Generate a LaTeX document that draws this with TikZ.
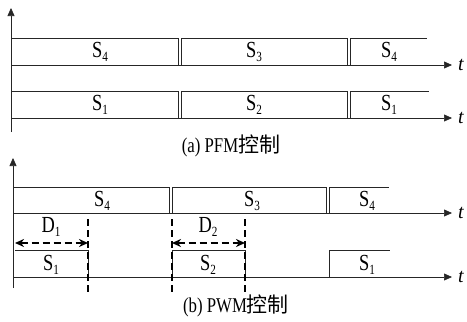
\documentclass[tikz,border=0pt]{standalone}
\usepackage{fontspec}
\setmainfont{Liberation Serif}
\newfontfamily\narrowserif[FakeStretch=0.8]{Liberation Serif}
\newfontfamily\cjk{Noto Sans CJK SC}
\usetikzlibrary{arrows.meta}

\newcommand{\sig}[2]{#1\raisebox{-0.45ex}{\fontsize{14}{14}\selectfont #2}}

\tikzset{
  axis/.style={draw=black!85, line width=0.6pt, -{Triangle[length=8pt,width=7pt]}},
  wave/.style={draw=black!85, line width=0.6pt},
  cut/.style={draw=black, line width=2pt, dash pattern=on 7pt off 4pt},
  span/.style={draw=black, line width=2pt, dash pattern=on 7pt off 4pt, {Stealth[length=9pt,width=8pt]}-{Stealth[length=9pt,width=8pt]}},
  lbl/.style={font=\narrowserif\fontsize{23}{23}\selectfont, inner sep=0pt},
  tlbl/.style={font=\fontsize{20}{20}\selectfont\itshape, inner sep=0pt, anchor=west},
  capt/.style={font=\narrowserif\fontsize{21}{21}\selectfont, inner sep=0pt}
}

\begin{document}
\begin{tikzpicture}[x=1pt,y=-1pt]
  \useasboundingbox (0,0) rectangle (467,322);

  % (a) PFM
  \coordinate (a0) at (11,132);
  \draw[axis] (a0) -- (11,8);
  \draw[axis] (11,65) coordinate (a1) -- (452,65) coordinate (a1e);
  \draw[axis] (11,118) coordinate (a2) -- (452,118) coordinate (a2e);
  \node[tlbl] (ta1) at ([xshift=6pt]a1e) {t};
  \node[tlbl] (ta2) at ([xshift=6pt]a2e) {t};

  \draw[wave] (11,38) -- (178,38) -- (178,65);
  \draw[wave] (181,65) -- (181,38) -- (347,38) -- (347,65);
  \draw[wave] (350,65) -- (350,38) -- (427,38);
  \draw[wave] (11,91) -- (178,91) -- (178,118);
  \draw[wave] (181,118) -- (181,91) -- (347,91) -- (347,118);
  \draw[wave] (350,118) -- (350,91) -- (429,91);

  \node[lbl] (a4) at (100,52) {\sig{S}{4}};
  \node[lbl] (a3) at (254,52) {\sig{S}{3}};
  \node[lbl] (a4b) at (389,52) {\sig{S}{4}};
  \node[lbl] (a1s) at (100,105) {\sig{S}{1}};
  \node[lbl] (a2s) at (254,105) {\sig{S}{2}};
  \node[lbl] (a1sb) at (389,105) {\sig{S}{1}};

  \node[capt] (capa) at (231,146) {(a) PFM{\cjk 控制}};

  % (b) PWM
  \coordinate (b0) at (13,288);
  \draw[axis] (b0) -- (13,158);
  \draw[axis] (13,213) coordinate (b1) -- (452,213) coordinate (b1e);
  \draw[axis] (13,277) coordinate (b2) -- (452,277) coordinate (b2e);
  \node[tlbl] (tb1) at ([xshift=6pt]b1e) {t};
  \node[tlbl] (tb2) at ([xshift=6pt]b2e) {t};

  \draw[wave] (13,187) -- (169,187) -- (169,213);
  \draw[wave] (172,213) -- (172,187) -- (326,187) -- (326,213);
  \draw[wave] (329,213) -- (329,187) -- (389,187);
  \draw[wave, line width=1pt] (15,250) -- (88,250) -- (88,277) -- (172,277) -- (172,250)
    -- (245,250) -- (245,277) -- (329,277) -- (329,250) -- (390,250);

  \coordinate (c1) at (88,219);  \coordinate (c1e) at (88,293);
  \coordinate (c2) at (172,219); \coordinate (c2e) at (172,293);
  \coordinate (c3) at (245,219); \coordinate (c3e) at (245,293);
  \draw[cut] (c1) -- (c1e);
  \draw[cut] (c2) -- (c2e);
  \draw[cut] (c3) -- (c3e);
  \draw[span] (15,243) coordinate (d1a) -- (88,243) coordinate (d1b);
  \draw[span] (172,243) coordinate (d2a) -- (245,243) coordinate (d2b);
  \node[lbl] (d1) at (51,227) {\sig{D}{1}};
  \node[lbl] (d2) at (208,227) {\sig{D}{2}};

  \node[lbl] (b4) at (102,201) {\sig{S}{4}};
  \node[lbl] (b3) at (252,201) {\sig{S}{3}};
  \node[lbl] (b4b) at (367,201) {\sig{S}{4}};
  \node[lbl] (b1s) at (51,265) {\sig{S}{1}};
  \node[lbl] (b2s) at (208,265) {\sig{S}{2}};
  \node[lbl] (b1sb) at (367,265) {\sig{S}{1}};

  \node[capt] (capb) at (236,306) {(b) PWM{\cjk 控制}};
\end{tikzpicture}
\end{document}
